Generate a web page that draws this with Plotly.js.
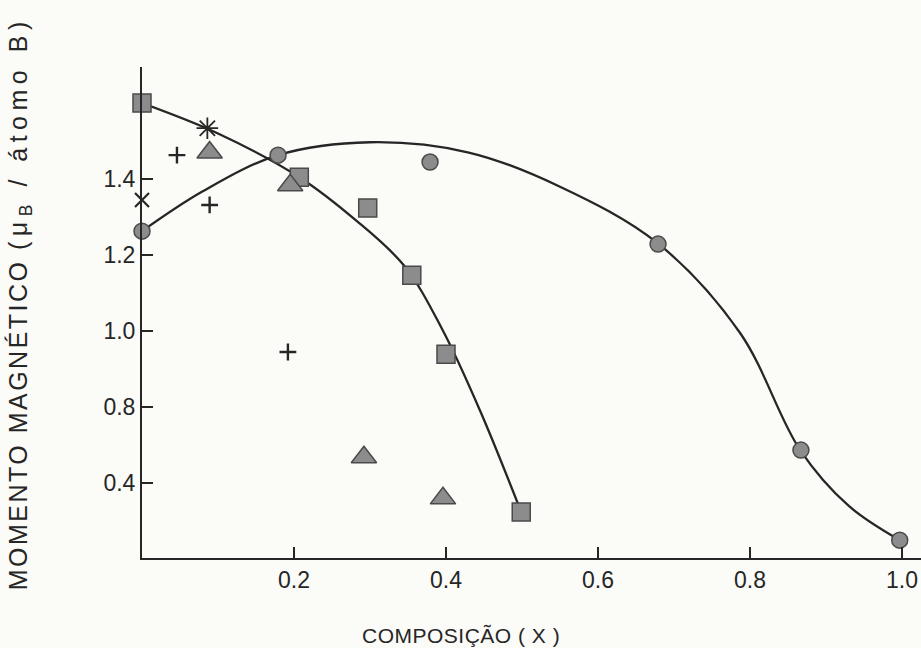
<!DOCTYPE html>
<html>
<head>
<meta charset="utf-8">
<script src="https://cdn.plot.ly/plotly-3.0.1.min.js"></script>
<style>
  html, body { margin: 0; padding: 0; background: #fbfbf8; }
  #chart { width: 921px; height: 648px; }
</style>
</head>
<body>
<div id="chart"></div>
<script>
// Magnetic moment per B atom versus composition x.
// Values are on the axis' own linear scale.

// Squares and the curve drawn through them
const squareX = [0.0, 0.207, 0.297, 0.355, 0.400, 0.499];
const squareY = [1.600, 1.405, 1.324, 1.147, 0.939, 0.524];
const squareCurveX = [0.0, 0.10, 0.207, 0.28, 0.345, 0.395, 0.445, 0.499];
const squareCurveY = [1.600, 1.520, 1.405, 1.294, 1.172, 1.005, 0.790, 0.524];

// Circles and their curve
const circleX = [0.0, 0.179, 0.379, 0.679, 0.867, 0.997];
const circleY = [1.263, 1.463, 1.445, 1.229, 0.687, 0.450];
const circleCurveX = [0.0, 0.08, 0.179, 0.30, 0.43, 0.55, 0.678, 0.787, 0.866, 0.93, 0.997];
const circleCurveY = [1.263, 1.368, 1.463, 1.497, 1.470, 1.380, 1.232, 0.995, 0.687, 0.540, 0.450];

// Triangles
const triangleX = [0.089, 0.195, 0.292, 0.396];
const triangleY = [1.470, 1.384, 0.668, 0.560];

// Crosses (+)
const plusX = [0.046, 0.089, 0.192];
const plusY = [1.463, 1.332, 0.945];

// Single x and asterisk points
const xMarkX = [0.0];
const xMarkY = [1.345];
const starX = [0.086];
const starY = [1.534];

// Y tick labels as printed on the axis
const yTickVals = [0.6, 0.8, 1.0, 1.2, 1.4];
const yTickText = ['0.4', '0.8', '1.0', '1.2', '1.4'];
const xTickVals = [0.2, 0.4, 0.6, 0.8, 1.0];
const xTickText = ['0.2', '0.4', '0.6', '0.8', '1.0'];

const ink = '#262626';
const fillGray = '#8c8c8c';
const edgeGray = '#4a4a4a';
const fontFam = 'Liberation Sans, Arial, sans-serif';

const traces = [
  { x: squareCurveX, y: squareCurveY, mode: 'lines', line: { color: ink, width: 2.3, shape: 'spline', smoothing: 1 }, hoverinfo: 'skip' },
  { x: circleCurveX, y: circleCurveY, mode: 'lines', line: { color: ink, width: 2.3, shape: 'spline', smoothing: 1 }, hoverinfo: 'skip' },
  { x: squareX, y: squareY, mode: 'markers', cliponaxis: false,
    marker: { symbol: 'square', size: 18, color: fillGray, line: { color: edgeGray, width: 1.5 } } },
  { x: circleX, y: circleY, mode: 'markers', cliponaxis: false,
    marker: { symbol: 'circle', size: 16, color: fillGray, line: { color: edgeGray, width: 1.5 } } },
  { x: triangleX, y: triangleY, mode: 'markers', cliponaxis: false,
    marker: { symbol: 'triangle-up', size: 22, color: fillGray, line: { color: edgeGray, width: 1.5 } } },
  { x: plusX, y: plusY, mode: 'markers', cliponaxis: false,
    marker: { symbol: 'cross-thin-open', size: 12, color: ink, line: { color: ink, width: 2.4 } } },
  { x: xMarkX, y: xMarkY, mode: 'markers', cliponaxis: false,
    marker: { symbol: 'x-thin-open', size: 14, color: ink, line: { color: ink, width: 2.2 } } },
  { x: starX, y: starY, mode: 'markers', cliponaxis: false,
    marker: { symbol: 'asterisk-open', size: 18, color: ink, line: { color: ink, width: 1.8 } } }
];

const yTitle = '<span style="letter-spacing:2.5px">MOMENTO MAGNÉTICO </span>' +
  '<span style="letter-spacing:5.5px">(μ<sub>B</sub> / átomo B)</span>';

const layout = {
  width: 921,
  height: 648,
  margin: { l: 142, r: 0, t: 67, b: 90 },
  paper_bgcolor: '#fbfbf8',
  plot_bgcolor: '#fbfbf8',
  showlegend: false,
  font: { family: fontFam, color: ink, size: 23 },
  xaxis: {
    range: [0, 1.025],
    showgrid: false, zeroline: false,
    showline: true, linecolor: ink, linewidth: 2,
    ticks: 'inside', ticklen: 11, tickwidth: 2, tickcolor: ink,
    tickvals: xTickVals, ticktext: xTickText,
    tickfont: { family: fontFam, size: 23, color: ink }
  },
  yaxis: {
    range: [0.403, 1.695],
    showgrid: false, zeroline: false,
    showline: true, linecolor: ink, linewidth: 2,
    ticks: 'inside', ticklen: 11, tickwidth: 2, tickcolor: ink,
    tickvals: yTickVals, ticktext: yTickText,
    tickfont: { family: fontFam, size: 23, color: ink }
  },
  annotations: [
    { text: '<span style="letter-spacing:0.5px">COMPOSIÇÃO ( X )</span>', xref: 'x', yref: 'paper', x: 0.42, y: -0.157,
      showarrow: false, xanchor: 'center', yanchor: 'middle',
      font: { family: fontFam, size: 21, color: ink } },
    { text: yTitle, xref: 'paper', yref: 'paper',
      x: -0.157, y: 0.518, textangle: -90, showarrow: false,
      xanchor: 'center', yanchor: 'middle',
      font: { family: fontFam, size: 25, color: ink } }
  ]
};

Plotly.newPlot('chart', traces, layout, { displayModeBar: false, staticPlot: true });
</script>
</body>
</html>
